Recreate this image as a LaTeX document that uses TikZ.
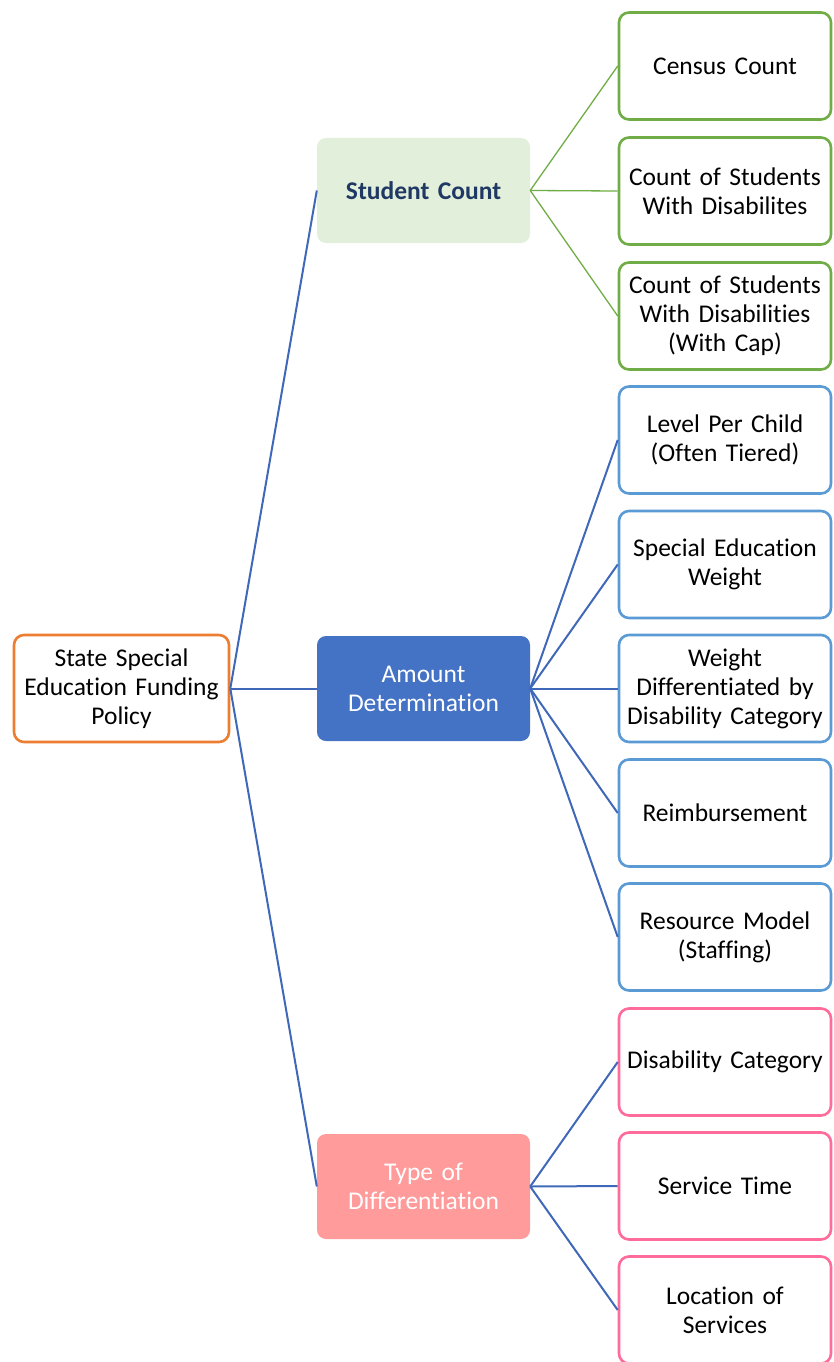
\documentclass[tikz,border=0pt]{standalone}
\usepackage{fontspec}
\setmainfont{Carlito}[Ligatures={NoCommon}]
\begin{document}
\begin{tikzpicture}[x=1pt,y=-1pt,
  every node/.style={font=\fontsize{25.5}{29}\selectfont, align=center, inner sep=1pt},
  leaf/.style={draw, line width=2.6pt, rounded corners=10pt, fill=white,
     text width=210pt, minimum height=107pt},
  mid/.style={rounded corners=9pt, text width=211pt, minimum height=105pt},
  rootbox/.style={draw=orgC, line width=2.6pt, rounded corners=10pt, fill=white,
     text width=213pt, minimum height=107pt},
  conn/.style={draw=lnC, line width=2pt},
  gconn/.style={draw=grC, line width=1.3pt}
]
\definecolor{orgC}{HTML}{ED7D31}
\definecolor{grC}{HTML}{70AD47}
\definecolor{blC}{HTML}{5B9BD5}
\definecolor{pkC}{HTML}{FF6B9A}
\definecolor{lnC}{HTML}{4068B8}
\definecolor{scFill}{HTML}{E2EFDA}
\definecolor{scText}{HTML}{203864}
\definecolor{adFill}{HTML}{4472C4}
\definecolor{tdFill}{HTML}{FF9B9B}
\useasboundingbox (0,0) rectangle (833,1362);

\node[rootbox] (root) at (121.5,688.5) {State Special\\Education Funding\\Policy};

\node[mid, fill=scFill, text=scText, font=\fontsize{25.5}{29}\selectfont\bfseries] (sc) at (423.5,190.5) {Student Count};
\node[mid, fill=adFill, text=white] (ad) at (423.5,688.5) {Amount\\Determination};
\node[mid, fill=tdFill, text=white] (td) at (423.5,1186.5) {Type of\\Differentiation};

\node[leaf, draw=grC] (g1) at (725,66) {Census Count};
\node[leaf, draw=grC] (g2) at (725,191) {Count of Students\\With Disabilites};
\node[leaf, draw=grC] (g3) at (725,316) {Count of Students\\With Disabilities\\(With Cap)};

\node[leaf, draw=blC] (b1) at (725,440) {Level Per Child\\(Often Tiered)};
\node[leaf, draw=blC] (b2) at (725,564.5) {Special Education\\Weight};
\node[leaf, draw=blC] (b3) at (725,688.5) {Weight\\Differentiated by\\Disability Category};
\node[leaf, draw=blC] (b4) at (725,813) {Reimbursement};
\node[leaf, draw=blC] (b5) at (725,937) {Resource Model\\(Staffing)};

\node[leaf, draw=pkC] (p1) at (725,1062) {Disability Category};
\node[leaf, draw=pkC] (p2) at (725,1186) {Service Time};
\node[leaf, draw=pkC] (p3) at (725,1310) {Location of\\Services};

\draw[conn] (root.east) -- (sc.west);
\draw[conn] (root.east) -- (ad.west);
\draw[conn] (root.east) -- (td.west);

\foreach \n in {g1,g2,g3} \draw[gconn] (sc.east) -- (\n.west);
\foreach \n in {b1,b2,b3,b4,b5} \draw[conn] (ad.east) -- (\n.west);
\foreach \n in {p1,p2,p3} \draw[conn] (td.east) -- (\n.west);
\end{tikzpicture}
\end{document}
